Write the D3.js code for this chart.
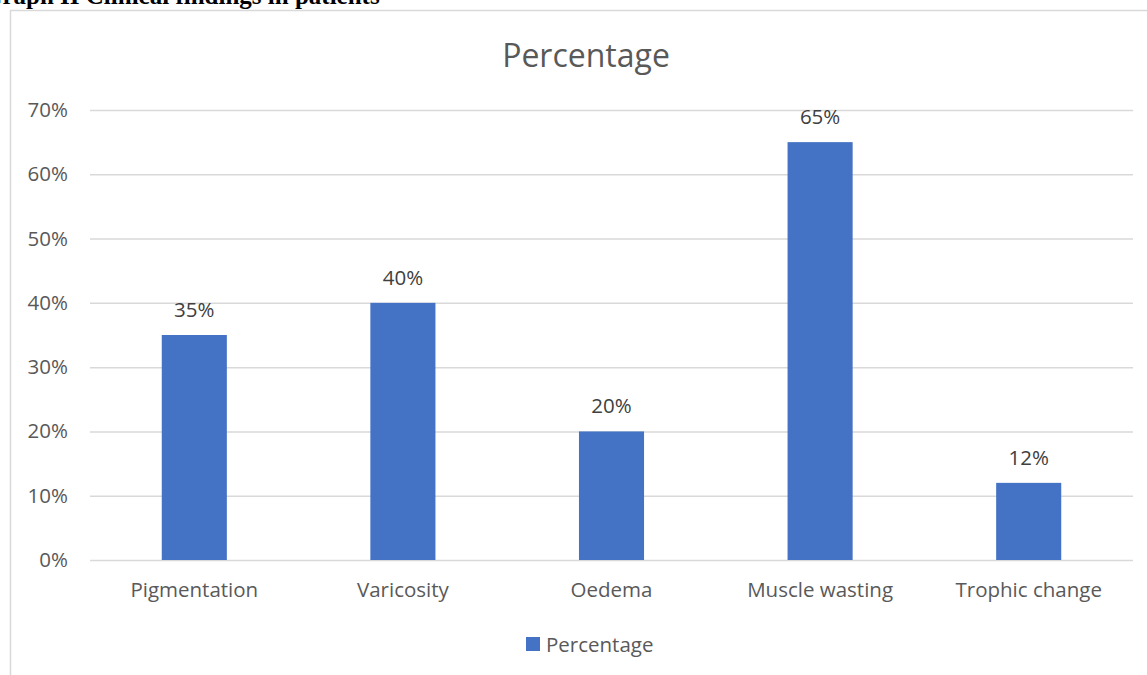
<!DOCTYPE html>
<html>
<head>
<meta charset="utf-8">
<script src="https://cdn.jsdelivr.net/npm/d3@7"></script>
<style>
  html, body { margin: 0; padding: 0; background: #fff; overflow: hidden; }
</style>
</head>
<body>
<script>
const categories = ['Pigmentation', 'Varicosity', 'Oedema', 'Muscle wasting', 'Trophic change'];
const percentages = [0.35, 0.40, 0.20, 0.65, 0.12];
const yTicks = [0, 0.1, 0.2, 0.3, 0.4, 0.5, 0.6, 0.7];
const seriesName = 'Percentage';
const pageHeading = 'Graph II Clinical findings in patients';

const width = 1147, height = 675;
const margin = { top: 110, right: 14, bottom: 115, left: 90 };
const font = "'Open Sans', 'Liberation Sans', sans-serif";
const grey = '#595959';
const barColor = '#4472C4';
const labelSize = '20.5px';

const svg = d3.select('body').append('svg')
  .attr('width', width)
  .attr('height', height)
  .attr('viewBox', `0 0 ${width} ${height}`);

// heading above the chart frame (cut off at the top in the original too)
svg.append('text')
  .attr('x', -17)
  .attr('y', 4)
  .attr('font-family', "'Liberation Serif', 'Times New Roman', serif")
  .attr('font-weight', 'bold')
  .attr('font-size', '25px')
  .attr('fill', '#000')
  .text(pageHeading);

// chart frame
svg.append('path')
  .attr('d', `M10.5,${height} V10.5 H${width}`)
  .attr('fill', 'none')
  .attr('stroke', '#d9d9d9')
  .attr('stroke-width', 1.5);

const x = d3.scaleBand()
  .domain(categories)
  .range([margin.left, width - margin.right])
  .paddingInner(0.688)
  .paddingOuter(0.344);

const y = d3.scaleLinear()
  .domain([0, 0.7])
  .range([height - margin.bottom, margin.top]);

// chart title
svg.append('text')
  .attr('x', 586)
  .attr('y', 67)
  .attr('text-anchor', 'middle')
  .attr('font-family', font)
  .attr('font-size', '32px')
  .attr('fill', grey)
  .text(seriesName);

// gridlines + y labels
const yAxis = svg.append('g')
  .attr('transform', `translate(${margin.left},0)`)
  .call(d3.axisLeft(y)
    .tickValues(yTicks)
    .tickFormat(d3.format('.0%'))
    .tickSize(-(width - margin.left - margin.right))
    .tickPadding(22));
yAxis.select('.domain').remove();
yAxis.selectAll('.tick line').attr('stroke', '#d9d9d9').attr('stroke-width', 1.5);
yAxis.selectAll('.tick text')
  .attr('font-family', font)
  .attr('font-size', labelSize)
  .attr('fill', grey);

// bars
svg.append('g')
  .selectAll('rect')
  .data(percentages)
  .join('rect')
  .attr('x', (d, i) => x(categories[i]))
  .attr('y', d => y(d))
  .attr('width', x.bandwidth())
  .attr('height', d => y(0) - y(d))
  .attr('fill', barColor);

// value labels
svg.append('g')
  .selectAll('text')
  .data(percentages)
  .join('text')
  .attr('x', (d, i) => x(categories[i]) + x.bandwidth() / 2)
  .attr('y', d => y(d) - 18)
  .attr('text-anchor', 'middle')
  .attr('font-family', font)
  .attr('font-size', labelSize)
  .attr('fill', '#404040')
  .text(d => d3.format('.0%')(d));

// category axis
const xAxis = svg.append('g')
  .attr('transform', `translate(0,${y(0)})`)
  .call(d3.axisBottom(x).tickSize(0).tickPadding(22));
xAxis.select('.domain').remove();
xAxis.selectAll('.tick text')
  .attr('font-family', font)
  .attr('font-size', labelSize)
  .attr('fill', grey);

// legend
const legend = svg.append('g').attr('transform', 'translate(526,637)');
legend.append('rect')
  .attr('width', 14)
  .attr('height', 14)
  .attr('fill', barColor);
legend.append('text')
  .attr('x', 20)
  .attr('y', 14.5)
  .attr('font-family', font)
  .attr('font-size', labelSize)
  .attr('fill', grey)
  .text(seriesName);
</script>
</body>
</html>
